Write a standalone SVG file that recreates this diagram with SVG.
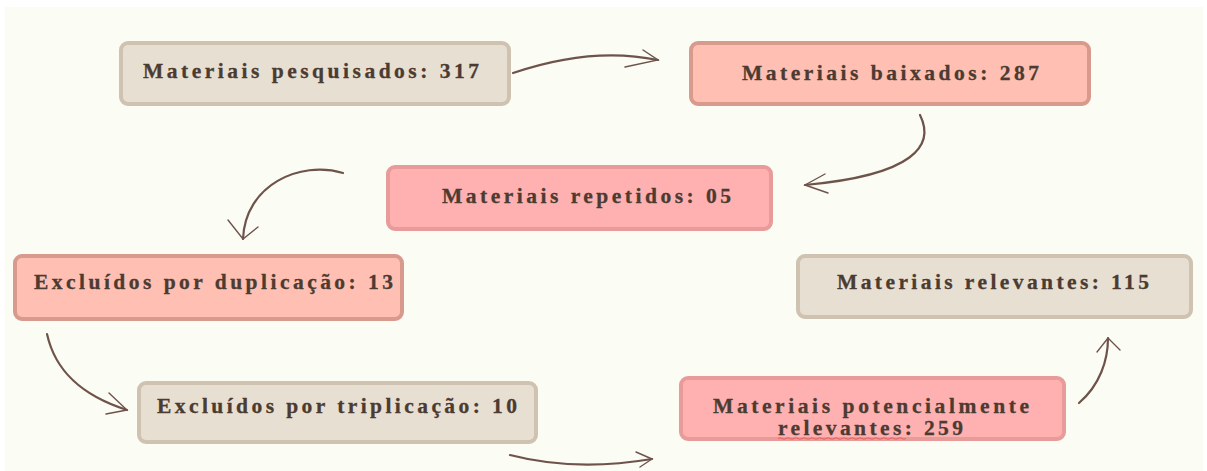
<svg xmlns="http://www.w3.org/2000/svg" width="1207" height="471" viewBox="0 0 1207 471">
<defs>
<style>
.bg{fill:#fbfcf4}
.box{stroke-width:4;stroke-linejoin:round}
.beige{fill:#e8dfd3;stroke:#cfc2b1}
.salmon{fill:#ffbfb2;stroke:#d99a8e}
.pink{fill:#ffb0b0;stroke:#e89c9a}
.lbl{font-family:"Liberation Serif","Times New Roman",serif;font-weight:bold;font-size:21.5px;fill:#4b3b31;stroke:#4b3b31;stroke-width:0.3}
.con{fill:none;stroke:#6e534b;stroke-width:2.2;stroke-linecap:round;stroke-linejoin:round}
.barb{fill:none;stroke:#6e534b;stroke-width:1.4;stroke-linecap:round}
</style>
</defs>
<rect x="0" y="0" width="1207" height="471" fill="#ffffff"/>
<rect class="bg" x="5" y="7" width="1198" height="464"/>

<g id="n1">
<rect class="box beige" x="121" y="43" width="388" height="61" rx="7"/>
<text class="lbl" x="143" y="78" textLength="336" lengthAdjust="spacing">Materiais pesquisados: 317</text>
</g>
<g id="n2">
<rect class="box salmon" x="691" y="43" width="398" height="61" rx="7"/>
<text class="lbl" x="742" y="80" textLength="297" lengthAdjust="spacing">Materiais baixados: 287</text>
</g>
<g id="n3">
<rect class="box pink" x="388" y="167" width="383" height="62" rx="7"/>
<text class="lbl" x="442" y="203" textLength="289" lengthAdjust="spacing">Materiais repetidos: 05</text>
</g>
<g id="n4">
<rect class="box salmon" x="15" y="256" width="387" height="63" rx="7"/>
<text class="lbl" x="34" y="289" textLength="359" lengthAdjust="spacing">Excluídos por duplicação: 13</text>
</g>
<g id="n5">
<rect class="box beige" x="798" y="256" width="393" height="61" rx="7"/>
<text class="lbl" x="837" y="289" textLength="312" lengthAdjust="spacing">Materiais relevantes: 115</text>
</g>
<g id="n6">
<rect class="box beige" x="139" y="383" width="397" height="59" rx="7"/>
<text class="lbl" x="157" y="413" textLength="360" lengthAdjust="spacing">Excluídos por triplicação: 10</text>
</g>
<g id="n7">
<rect class="box pink" x="681" y="378" width="383" height="61" rx="7"/>
<text class="lbl" x="713" y="413" textLength="316" lengthAdjust="spacing">Materiais potencialmente</text>
<text class="lbl" x="778" y="435" textLength="185" lengthAdjust="spacing">relevantes: 259</text>
<path d="M778 438.5 q2 -1.5 4 0 t4 0 t4 0 t4 0 t4 0 t4 0 t4 0 t4 0 t4 0 t4 0 t4 0 t4 0 t4 0 t4 0 t4 0 t4 0 t4 0 t4 0 t4 0 t4 0 t4 0 t4 0 t4 0 t4 0 t4 0 t4 0 t4 0 t4 0 t4 0 t4 0 t4 0 t4 0" fill="none" stroke="#e05050" stroke-width="0.8"/>
</g>

<g id="connectors">
<path class="con" d="M513 73 C560 57 610 50 658 60"/>
<path class="barb" d="M643 50 L658 60 L625 67"/>

<path class="con" d="M920 115 C935 145 915 175 805 185"/>
<path class="barb" d="M825 174 L805 185 L828 193"/>

<path class="con" d="M343 173 C300 160 245 185 243 239"/>
<path class="barb" d="M228 220 L243 239 L258 227"/>

<path class="con" d="M47 334 C55 370 80 395 127 410"/>
<path class="barb" d="M109 393 L127 410 L106 414"/>

<path class="con" d="M510 455 C560 468 610 466 652 459"/>
<path class="barb" d="M636 452 L652 459 L640 467"/>

<path class="con" d="M1079 403 C1100 385 1108 360 1108 338"/>
<path class="barb" d="M1097 352 L1108 338 L1120 350"/>
</g>
</svg>
